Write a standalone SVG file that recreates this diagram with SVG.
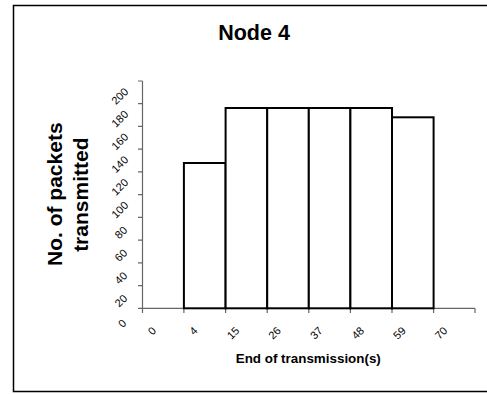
<svg xmlns="http://www.w3.org/2000/svg" width="487" height="394" viewBox="0 0 487 394">
<style>
.tick{font-family:"Liberation Sans",Arial,sans-serif;font-size:11px;fill:#000;text-anchor:end}
.title{font-family:"Liberation Sans",Arial,sans-serif;font-weight:bold;fill:#000;text-anchor:middle}
.bar{fill:#fff;stroke:#000;stroke-width:2}
.axis{stroke:#666;stroke-width:1.2;fill:none}
</style>
<rect width="487" height="394" fill="#fff"/>
<path d="M487,5.5 H13.5 V391.5 H487" fill="none" stroke="#000" stroke-width="1.5"/>
<g id="title"><text class="title" x="254" y="40" font-size="21.5">Node 4</text></g>
<g id="axes">
<path class="axis" d="M142.5,81 V308.3 M138,81 H142.5 M138,103.7 H142.5 M138,126.4 H142.5 M138,149.2 H142.5 M138,171.9 H142.5 M138,194.7 H142.5 M138,217.4 H142.5 M138,240.1 H142.5 M138,262.9 H142.5 M138,285.6 H142.5 M138,308.3 H142.5"/>
<path class="axis" d="M142.5,308.3 H475 M142.5,308.3 V313 M183.9,308.3 V313 M225.6,308.3 V313 M267.2,308.3 V313 M308.8,308.3 V313 M350.4,308.3 V313 M392,308.3 V313 M433.6,308.3 V313 M475,308.3 V313"/>
</g>
<g id="bars">
<rect class="bar" x="183.9" y="163" width="41.7" height="145.3"/>
<rect class="bar" x="225.6" y="108" width="41.6" height="200.3"/>
<rect class="bar" x="267.2" y="108" width="41.6" height="200.3"/>
<rect class="bar" x="308.8" y="108" width="41.6" height="200.3"/>
<rect class="bar" x="350.4" y="108" width="41.6" height="200.3"/>
<rect class="bar" x="392" y="117.3" width="41.6" height="191"/>
</g>
<g id="ylabels">
<text class="tick" transform="translate(127,323.9) rotate(-45)">0</text>
<text class="tick" transform="translate(128,299.1) rotate(-45)">20</text>
<text class="tick" transform="translate(128,276.4) rotate(-45)">40</text>
<text class="tick" transform="translate(128,253.6) rotate(-45)">60</text>
<text class="tick" transform="translate(128,230.9) rotate(-45)">80</text>
<text class="tick" transform="translate(129,206) rotate(-45)">100</text>
<text class="tick" transform="translate(129,183.2) rotate(-45)">120</text>
<text class="tick" transform="translate(129,160.5) rotate(-45)">140</text>
<text class="tick" transform="translate(129,137.7) rotate(-45)">160</text>
<text class="tick" transform="translate(129,115) rotate(-45)">180</text>
<text class="tick" transform="translate(129,92.3) rotate(-45)">200</text>
</g>
<g id="xlabels">
<text class="tick" transform="translate(156.8,331.3) rotate(-45)">0</text>
<text class="tick" transform="translate(198.4,331.3) rotate(-45)">4</text>
<text class="tick" transform="translate(240.1,331.3) rotate(-45)">15</text>
<text class="tick" transform="translate(281.7,331.3) rotate(-45)">26</text>
<text class="tick" transform="translate(323.3,331.3) rotate(-45)">37</text>
<text class="tick" transform="translate(364.9,331.3) rotate(-45)">48</text>
<text class="tick" transform="translate(406.5,331.3) rotate(-45)">59</text>
<text class="tick" transform="translate(448.1,331.3) rotate(-45)">70</text>
</g>
<g id="axis-titles">
<text class="title" font-size="21" transform="translate(62.3,194.2) rotate(-90)">No. of packets</text>
<text class="title" font-size="21" transform="translate(88.3,194.7) rotate(-90)">transmitted</text>
<text class="title" x="308.3" y="362.7" font-size="13.4">End of transmission(s)</text>
</g>
</svg>
